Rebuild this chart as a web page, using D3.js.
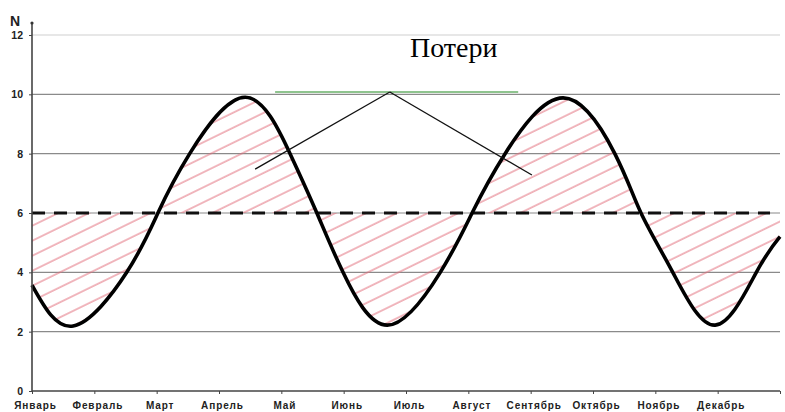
<!DOCTYPE html>
<html>
<head>
<meta charset="utf-8">
<script src="https://cdnjs.cloudflare.com/ajax/libs/d3/7.8.5/d3.min.js"></script>
<style>
	body { margin: 0; background: #fff; }
	svg { display: block; }
</style>
</head>
<body>
<script>
var months = ['Январь', 'Февраль', 'Март', 'Апрель', 'Май', 'Июнь', 'Июль', 'Август', 'Сентябрь', 'Октябрь', 'Ноябрь', 'Декабрь'];
var yTicks = [0, 2, 4, 6, 8, 10, 12];

// month position (0 = start of Январь) and N
var curveMonth = [0, 0.66, 1.52, 2.02, 2.53, 3.42, 4.14, 4.57, 4.99, 5.70, 6.55, 7.06, 7.59, 8.52, 9.35, 9.77, 10.28, 10.96, 11.62, 12];
var curveN = [3.57, 2.19, 4, 6, 8, 9.9, 8, 6, 4, 2.22, 4, 6, 8, 9.88, 8, 6, 4, 2.22, 4, 5.2];

var norm = 6;
var normEnd = 11.84;

var noteText = 'Потери';
var noteApex = [5.74, 10.08];
var noteTargets = [[3.58, 7.48], [8.02, 7.28]];
var noteBar = [3.9, 7.8];

function LossChart() {
	this.w = 785;
	this.h = 412;
	this.x = d3.scaleLinear().domain([0, 12]).range([32, 780]);
	this.y = d3.scaleLinear().domain([0, 12]).range([391, 35]);
	this.smooth = d3.curveNatural;
	this.svg = d3.select('body').append('svg')
		.attr('width', this.w)
		.attr('height', this.h);
};

LossChart.prototype = {
	draw: function() {
		this.defs();
		this.grid();
		this.hatch();
		this.normLine();
		this.curve();
		this.axes();
		this.note();
	},
	defs: function() {
		var p = this.svg.append('defs').append('pattern')
			.attr('id', 'hatch')
			.attr('patternUnits', 'userSpaceOnUse')
			.attr('width', 20)
			.attr('height', 13.5)
			.attr('patternTransform', 'rotate(-26)');
		p.append('line')
			.attr('x1', 0).attr('x2', 20)
			.attr('y1', 1).attr('y2', 1)
			.attr('stroke', '#e26f7c')
			.attr('stroke-width', 1);
	},
	grid: function() {
		var that = this;
		this.svg.append('g').selectAll('line')
			.data(yTicks.filter(function(d) { return d > 0; }))
			.enter().append('line')
			.attr('x1', this.x(0))
			.attr('x2', this.x(12))
			.attr('y1', function(d) { return that.y(d); })
			.attr('y2', function(d) { return that.y(d); })
			.attr('stroke', function(d) { return d == 12 ? '#cfcfcf' : '#8a8a8a'; })
			.attr('stroke-width', 1.2);
	},
	points: function() {
		return curveMonth.map(function(m, i) { return [m, curveN[i]]; });
	},
	hatch: function() {
		var that = this;
		var area = d3.area()
			.x(function(d) { return that.x(d[0]); })
			.y0(this.y(norm))
			.y1(function(d) { return that.y(d[1]); })
			.curve(this.smooth);
		this.svg.append('path')
			.datum(this.points())
			.attr('d', area)
			.attr('fill', 'url(#hatch)');
	},
	normLine: function() {
		this.svg.append('line')
			.attr('x1', this.x(0))
			.attr('x2', this.x(normEnd))
			.attr('y1', this.y(norm))
			.attr('y2', this.y(norm))
			.attr('stroke', '#111')
			.attr('stroke-width', 3)
			.attr('stroke-dasharray', '13,9');
	},
	curve: function() {
		var that = this;
		var line = d3.line()
			.x(function(d) { return that.x(d[0]); })
			.y(function(d) { return that.y(d[1]); })
			.curve(this.smooth);
		this.svg.append('path')
			.datum(this.points())
			.attr('d', line)
			.attr('fill', 'none')
			.attr('stroke', '#000')
			.attr('stroke-width', 3.6);
	},
	axes: function() {
		var yAxis = d3.axisLeft(this.y).tickValues(yTicks).tickSize(3).tickPadding(6);
		var gy = this.svg.append('g')
			.attr('transform', 'translate(' + this.x(0) + ',0)')
			.call(yAxis);
		gy.select('.domain').remove();
		gy.selectAll('.tick line').attr('stroke', '#444');
		gy.selectAll('text')
			.attr('font-family', 'Liberation Sans, Arial, sans-serif')
			.attr('font-weight', 'bold')
			.attr('font-size', 10.5)
			.attr('fill', '#222');

		var xAxis = d3.axisBottom(this.x)
			.tickValues(d3.range(13))
			.tickSize(3)
			.tickFormat(function(d) { return months[d] || ''; });
		var gx = this.svg.append('g')
			.attr('transform', 'translate(0,' + this.y(0) + ')')
			.call(xAxis);
		gx.select('.domain').remove();
		gx.selectAll('.tick line').attr('stroke', '#444');
		gx.selectAll('text')
			.attr('y', 11)
			.attr('dx', 3)
			.attr('font-family', 'Liberation Sans, Arial, sans-serif')
			.attr('font-weight', 'bold')
			.attr('font-size', 10)
			.attr('letter-spacing', 0.9)
			.attr('fill', '#222');

		// axis lines drawn by hand, the vertical one runs past 12
		this.svg.append('line')
			.attr('x1', this.x(0)).attr('x2', this.x(0))
			.attr('y1', this.y(12) - 12).attr('y2', this.y(0))
			.attr('stroke', '#444').attr('stroke-width', 1.6);
		this.svg.append('line')
			.attr('x1', this.x(0)).attr('x2', this.x(12))
			.attr('y1', this.y(0)).attr('y2', this.y(0))
			.attr('stroke', '#444').attr('stroke-width', 1.6);
		this.svg.append('circle')
			.attr('cx', this.x(0)).attr('cy', this.y(12) - 12)
			.attr('r', 1.6).attr('fill', '#333');

		this.svg.append('text')
			.attr('x', 15)
			.attr('y', 26)
			.attr('text-anchor', 'middle')
			.attr('font-family', 'Liberation Sans, Arial, sans-serif')
			.attr('font-weight', 'bold')
			.attr('font-size', 14)
			.attr('fill', '#222')
			.text('N');
	},
	note: function() {
		var that = this;
		this.svg.append('line')
			.attr('x1', this.x(noteBar[0])).attr('x2', this.x(noteBar[1]))
			.attr('y1', this.y(noteApex[1])).attr('y2', this.y(noteApex[1]))
			.attr('stroke', '#8fc48f')
			.attr('stroke-width', 2);
		this.svg.append('g').selectAll('line')
			.data(noteTargets)
			.enter().append('line')
			.attr('x1', this.x(noteApex[0]))
			.attr('y1', this.y(noteApex[1]))
			.attr('x2', function(d) { return that.x(d[0]); })
			.attr('y2', function(d) { return that.y(d[1]); })
			.attr('stroke', '#111')
			.attr('stroke-width', 1.3);
		this.svg.append('text')
			.attr('x', 410)
			.attr('y', 57)
			.attr('font-family', 'Liberation Serif, Times New Roman, serif')
			.attr('font-size', 28)
			.attr('fill', '#000')
			.text(noteText);
	}
};

var chart = new LossChart();
chart.draw();
</script>
</body>
</html>
